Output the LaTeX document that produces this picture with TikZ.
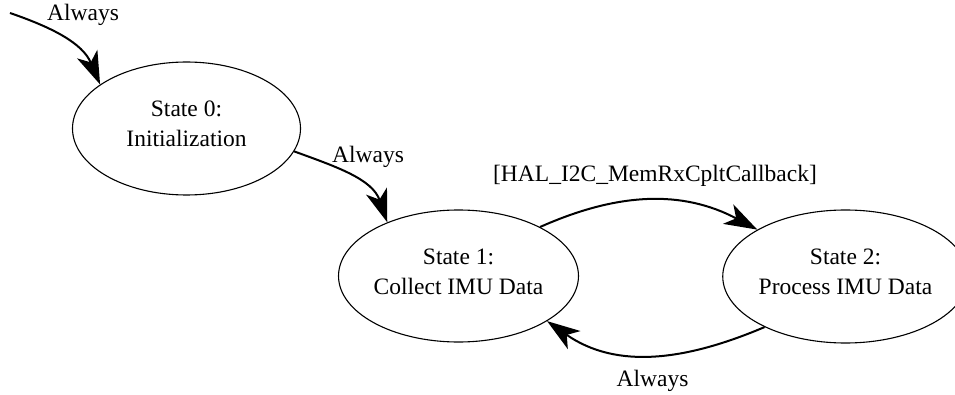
\documentclass[tikz,border=0pt]{standalone}
\usepackage{fontspec}
\setmainfont{Liberation Serif}
\usetikzlibrary{shapes.geometric,arrows.meta}

\tikzset{
  state/.style={draw, ellipse, line width=1.1pt, inner sep=0pt, align=center,
    font=\fontsize{23.5}{30}\selectfont, text depth=9pt},
  edgelabel/.style={anchor=base, inner sep=0pt, font=\fontsize{23.5}{30}\selectfont},
  headtip/.tip={Stealth[length=33pt, width=22pt, inset=9pt]},
  trans/.style={line width=2pt, -headtip}
}

\begin{document}
\begin{tikzpicture}[x=1pt, y=1pt]
  \useasboundingbox (0,0) rectangle (955,394);

  % states
  \node[state, minimum width=228pt, minimum height=133pt] (s0) at (186.5,265.5)
    {State 0:\\Initialization};
  \node[state, minimum width=229pt, minimum height=132pt] (s1) at (458.5,118)
    {State 1:\\Collect IMU Data};
  \node[state, minimum width=218pt, minimum height=133pt] (s2) at (845.5,117.5)
    {State 2:\\Process IMU Data};

  % entry point
  \coordinate (entry) at (10,381);

  % transitions
  \draw[trans] (entry) to[out=-19, in=113] (s0.153);
  \draw[trans] (s0.-12) to[out=-20, in=109] (s1.143);
  \draw[trans] (s1.31) to[out=24, in=152] (s2.152);
  \draw[trans] (s2.-148) to[out=203, in=-35] (s1.-27);

  % transition labels
  \node[edgelabel] (l0) at (83,373.3) {Always};
  \node[edgelabel] (l1) at (368,231.3) {Always};
  \node[edgelabel] (l2) at (655,212.3) {[HAL\_I2C\_MemRxCpltCallback]};
  \node[edgelabel] (l3) at (652.5,8) {Always};
\end{tikzpicture}
\end{document}
